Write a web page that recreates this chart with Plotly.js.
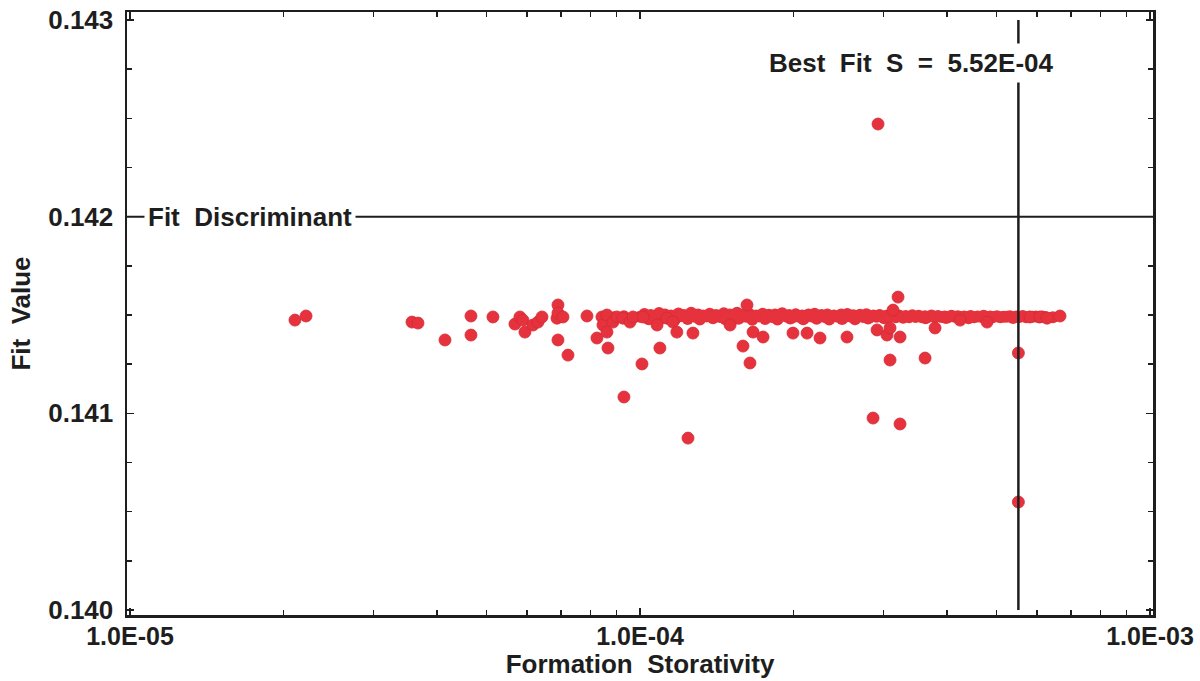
<!DOCTYPE html>
<html>
<head>
<meta charset="utf-8">
<script src="https://cdn.plot.ly/plotly-3.0.1.min.js"></script>
<style>
  html, body { margin: 0; padding: 0; background: #ffffff; }
  #chart { width: 1200px; height: 681px; }
</style>
</head>
<body>
<div id="chart"></div>
<script>
// Fit value of each trial storativity (isolated and scattered runs)
const storativity = [
  2.106e-5, 2.214e-5, 3.572e-5, 3.670e-5, 4.146e-5, 4.662e-5, 4.662e-5, 5.148e-5,
  5.686e-5, 5.815e-5, 5.895e-5, 5.948e-5, 6.167e-5, 6.310e-5, 6.424e-5, 6.875e-5,
  6.905e-5, 6.905e-5, 7.063e-5, 6.905e-5, 7.224e-5, 7.871e-5,
  8.234e-5, 8.422e-5, 8.461e-5, 8.614e-5, 8.614e-5, 8.851e-5, 9.012e-5, 9.260e-5,
  9.559e-5, 9.690e-5, 1.014e-4, 8.654e-5, 1.009e-4, 9.301e-5, 1.080e-4, 1.094e-4,
  1.129e-4, 1.160e-4, 1.181e-4, 1.270e-4, 1.502e-4, 1.666e-4, 1.743e-4, 1.995e-4,
  2.126e-4, 2.254e-4, 2.546e-4, 2.916e-4, 1.621e-4, 1.592e-4, 1.643e-4, 1.242e-4,
  3.206e-4, 3.134e-4, 3.050e-4, 3.235e-4, 3.092e-4, 3.789e-4, 3.092e-4, 3.622e-4,
  5.52e-4, 5.52e-4, 2.929e-4, 2.864e-4, 3.235e-4, 4.242e-4, 4.792e-4, 5.817e-4,
  6.085e-4, 6.281e-4, 6.661e-4
];
const fitValue = [
  0.141474, 0.141495, 0.141464, 0.141459, 0.141373, 0.141495, 0.141398, 0.141490,
  0.141454, 0.141490, 0.141474, 0.141413, 0.141449, 0.141464, 0.141490, 0.141484,
  0.141551, 0.141510, 0.141490, 0.141373, 0.141296, 0.141495,
  0.141383, 0.141490, 0.141449, 0.141413, 0.141500, 0.141464, 0.141490, 0.141484,
  0.141464, 0.141490, 0.141490, 0.141332, 0.141251, 0.141083, 0.141449, 0.141332,
  0.141484, 0.141464, 0.141413, 0.141408, 0.141449, 0.141413, 0.141388, 0.141408,
  0.141408, 0.141383, 0.141388, 0.141424, 0.141551, 0.141342, 0.141256, 0.140874,
  0.141591, 0.141525, 0.141398, 0.141388, 0.141434, 0.141434, 0.141271, 0.141281,
  0.141307, 0.140549, 0.142471, 0.140976, 0.140946, 0.141474, 0.141464, 0.141490,
  0.141490, 0.141484, 0.141495
];

// Dense run of near-identical fits forming the main band
const bandStorativity = [
  1.02e-4, 1.05e-4, 1.09e-4, 1.12e-4, 1.15e-4, 1.19e-4, 1.22e-4, 1.26e-4, 1.30e-4, 1.33e-4,
  1.37e-4, 1.41e-4, 1.46e-4, 1.50e-4, 1.55e-4, 1.59e-4, 1.64e-4, 1.69e-4, 1.74e-4, 1.79e-4,
  1.84e-4, 1.90e-4, 1.96e-4, 2.02e-4, 2.08e-4, 2.14e-4, 2.20e-4, 2.27e-4, 2.33e-4, 2.40e-4,
  2.48e-4, 2.55e-4, 2.62e-4, 2.70e-4, 2.78e-4, 2.87e-4, 2.95e-4, 3.04e-4, 3.13e-4, 3.22e-4,
  3.32e-4, 3.42e-4, 3.52e-4, 3.62e-4, 3.73e-4, 3.84e-4, 3.96e-4, 4.08e-4, 4.20e-4, 4.32e-4,
  4.45e-4, 4.59e-4, 4.72e-4, 4.86e-4, 5.01e-4, 5.16e-4, 5.31e-4, 5.47e-4, 5.63e-4, 5.80e-4,
  5.97e-4, 6.15e-4,
  1.04e-4, 1.10e-4, 1.17e-4, 1.24e-4, 1.31e-4, 1.39e-4, 1.47e-4, 1.56e-4, 1.66e-4, 1.76e-4,
  1.86e-4, 1.97e-4, 2.09e-4, 2.22e-4, 2.35e-4, 2.49e-4, 2.64e-4, 2.80e-4,
  3.01e-4, 3.28e-4, 3.63e-4, 3.98e-4, 4.41e-4, 4.88e-4, 5.39e-4,
  8.90e-5, 9.30e-5, 9.70e-5, 1.000e-4, 1.035e-4, 1.070e-4, 1.105e-4, 1.135e-4, 1.170e-4, 1.205e-4,
  1.240e-4, 1.280e-4, 1.315e-4, 1.350e-4, 1.390e-4, 1.435e-4, 1.480e-4, 1.525e-4, 1.570e-4, 1.615e-4,
  1.665e-4, 1.715e-4, 1.765e-4, 1.815e-4, 1.870e-4, 1.930e-4, 1.990e-4, 2.050e-4, 2.110e-4, 2.170e-4,
  2.235e-4, 2.300e-4, 2.365e-4, 2.440e-4, 2.515e-4, 2.585e-4, 2.660e-4, 2.740e-4, 2.825e-4, 2.910e-4,
  3.000e-4, 3.085e-4, 3.175e-4, 3.270e-4, 3.370e-4, 3.470e-4, 3.570e-4, 3.680e-4, 3.785e-4, 3.900e-4,
  4.020e-4, 4.140e-4, 4.260e-4, 4.385e-4, 4.520e-4, 4.655e-4, 4.790e-4, 4.930e-4, 5.085e-4, 5.235e-4,
  5.390e-4, 5.550e-4, 5.715e-4, 5.885e-4, 6.060e-4, 6.240e-4, 6.450e-4
];
const bandFitValue = [
  0.141505, 0.141500, 0.141510, 0.141502, 0.141498, 0.141508, 0.141500, 0.141512, 0.141503, 0.141498,
  0.141506, 0.141500, 0.141509, 0.141502, 0.141511, 0.141500, 0.141505, 0.141498, 0.141507, 0.141501,
  0.141503, 0.141509, 0.141500, 0.141504, 0.141498, 0.141502, 0.141506, 0.141500, 0.141503, 0.141497,
  0.141502, 0.141505, 0.141499, 0.141501, 0.141504, 0.141498, 0.141500, 0.141496, 0.141500, 0.141497,
  0.141495, 0.141499, 0.141496, 0.141494, 0.141497, 0.141495, 0.141493, 0.141496, 0.141494, 0.141492,
  0.141495, 0.141493, 0.141496, 0.141492, 0.141494, 0.141491, 0.141494, 0.141492, 0.141495, 0.141491,
  0.141493, 0.141492,
  0.141478, 0.141482, 0.141476, 0.141480, 0.141477, 0.141483, 0.141478, 0.141481, 0.141476, 0.141480,
  0.141477, 0.141482, 0.141478, 0.141481, 0.141477, 0.141480, 0.141478, 0.141482,
  0.141484, 0.141486, 0.141483, 0.141485, 0.141484, 0.141486, 0.141485,
  0.141488, 0.141494, 0.141486, 0.141491, 0.141489, 0.141495, 0.141487, 0.141492, 0.141488, 0.141494,
  0.141486, 0.141491, 0.141489, 0.141493, 0.141487, 0.141490, 0.141488, 0.141494, 0.141486, 0.141491,
  0.141489, 0.141492, 0.141487, 0.141490, 0.141489, 0.141493, 0.141487, 0.141491, 0.141489, 0.141492,
  0.141488, 0.141490, 0.141487, 0.141491, 0.141489, 0.141492, 0.141488, 0.141490, 0.141489, 0.141491,
  0.141488, 0.141490, 0.141489, 0.141491, 0.141488, 0.141490, 0.141489, 0.141491, 0.141488, 0.141490,
  0.141489, 0.141491, 0.141488, 0.141490, 0.141489, 0.141491, 0.141488, 0.141490, 0.141489, 0.141491,
  0.141488, 0.141490, 0.141489, 0.141491, 0.141488, 0.141490, 0.141489
];

const bestFitS = 5.52e-4;
const fitDiscriminant = 0.142;

const xTickVals = [1e-5, 1e-4, 1e-3];
const xTickText = ['1.0E-05', '1.0E-04', '1.0E-03'];
const xMinorVals = [2e-5, 3e-5, 4e-5, 5e-5, 6e-5, 7e-5, 8e-5, 9e-5,
                    2e-4, 3e-4, 4e-4, 5e-4, 6e-4, 7e-4, 8e-4, 9e-4];
const yTickVals = [0.140, 0.141, 0.142, 0.143];
const yTickText = ['0.140', '0.141', '0.142', '0.143'];

const ink = '#1e1e1e';
const dotRed = '#e5323c';
const FONT = 'Liberation Sans, Arial, sans-serif';
const nb = '\u00a0\u00a0';

const traces = [
  {
    type: 'scatter', mode: 'markers',
    x: bandStorativity, y: bandFitValue,
    marker: { color: dotRed, size: 12, line: { width: 0 } },
    hoverinfo: 'x+y', showlegend: false
  },
  {
    type: 'scatter', mode: 'markers',
    x: storativity, y: fitValue,
    marker: { color: dotRed, size: 12, line: { color: '#d42b36', width: 0.8 } },
    hoverinfo: 'x+y', showlegend: false
  }
];

const axisCommon = {
  showline: true, linecolor: ink, linewidth: 2.5, mirror: 'allticks',
  ticks: 'inside', tickcolor: ink, tickwidth: 1.5, ticklen: 7,
  showgrid: false, zeroline: false,
  tickfont: { family: FONT, size: 26, color: ink, weight: 'bold' }
};

const layout = {
  width: 1200, height: 681,
  margin: { l: 127, r: 47, t: 12, b: 66 },
  paper_bgcolor: '#ffffff', plot_bgcolor: '#ffffff',
  showlegend: false,
  xaxis: Object.assign({}, axisCommon, {
    type: 'log',
    range: [-5.00588, -2.99412],
    tickmode: 'array', tickvals: xTickVals, ticktext: xTickText,
    tickfont: { family: FONT, size: 25, color: ink, weight: 'bold' },
    ticklabelstandoff: -3,
    minor: { tickmode: 'array', tickvals: xMinorVals, ticks: 'inside', ticklen: 5, tickcolor: ink, tickwidth: 1.5 },
    title: { text: 'Formation' + nb + 'Storativity', standoff: 2,
             font: { family: FONT, size: 26, color: ink, weight: 'bold' } }
  }),
  yaxis: Object.assign({}, axisCommon, {
    range: [0.1399746, 0.1430407],
    tickmode: 'array', tickvals: yTickVals, ticktext: yTickText,
    ticklabelstandoff: 6,
    minor: { dtick: 0.00025, ticks: 'inside', ticklen: 5, tickcolor: ink, tickwidth: 1.5 },
    title: { text: 'Fit' + nb + 'Value', standoff: 10,
             font: { family: FONT, size: 26, color: ink, weight: 'bold' } }
  }),
  shapes: [
    { type: 'line', layer: 'above', xref: 'paper', yref: 'y',
      x0: 0, x1: 1, y0: fitDiscriminant, y1: fitDiscriminant,
      line: { color: ink, width: 2 } },
    { type: 'line', layer: 'above', xref: 'x', yref: 'y',
      x0: bestFitS, x1: bestFitS, y0: 0.140, y1: 0.143,
      line: { color: ink, width: 2.5 } }
  ],
  annotations: [
    { xref: 'paper', yref: 'y', x: 0.12, y: fitDiscriminant,
      xanchor: 'center', yanchor: 'middle',
      text: 'Fit' + nb + 'Discriminant', showarrow: false,
      bgcolor: '#ffffff', borderpad: 3,
      font: { family: FONT, size: 26, color: ink, weight: 'bold' } },
    { xref: 'x', yref: 'y', x: Math.log10(bestFitS), y: 0.14278, xshift: -107,
      xanchor: 'center', yanchor: 'middle',
      text: 'Best' + nb + 'Fit' + nb + 'S' + nb + '=' + nb + '5.52E-04',
      showarrow: false, bgcolor: '#ffffff', borderpad: 4,
      font: { family: FONT, size: 26, color: ink, weight: 'bold' } }
  ]
};

Plotly.newPlot('chart', traces, layout, { displayModeBar: false, staticPlot: true });
</script>
</body>
</html>
